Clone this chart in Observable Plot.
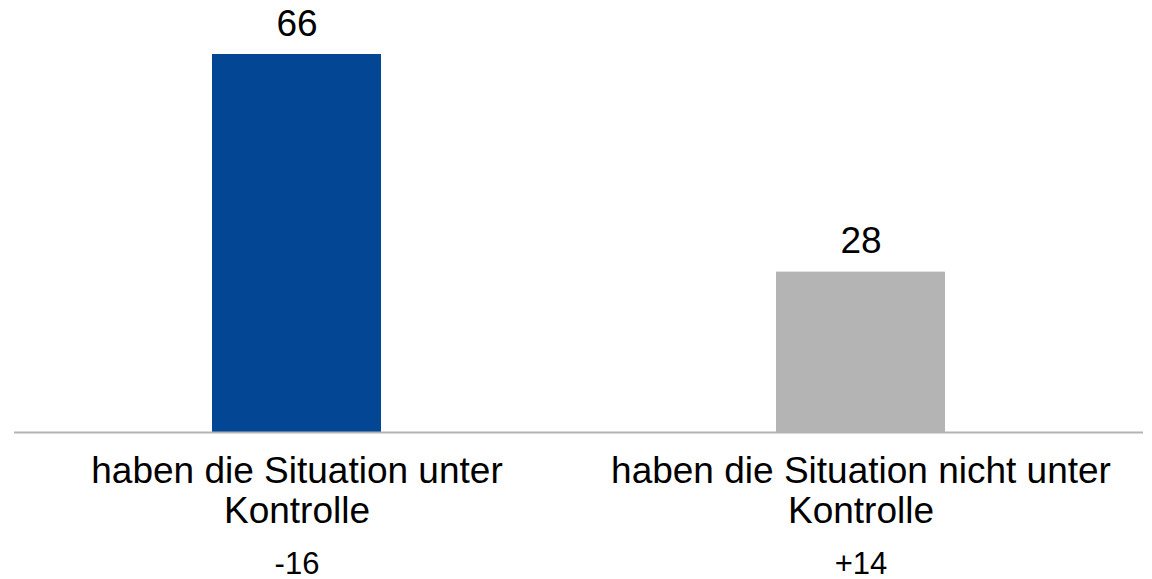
<!DOCTYPE html>
<html>
<head>
<meta charset="utf-8">
<script src="https://cdn.jsdelivr.net/npm/d3@7"></script>
<script src="https://cdn.jsdelivr.net/npm/@observablehq/plot@0.6"></script>
<style>
  html, body { margin: 0; padding: 0; background: #fff; }
  #chart svg { display: block; }
</style>
</head>
<body>
<div id="chart"></div>
<script>
const categories = ["haben die Situation unter\nKontrolle", "haben die Situation nicht unter\nKontrolle"];
const values = [66, 28];
const changes = ["-16", "+14"];
const colors = ["#034694", "#b4b4b4"];

const data = categories.map((c, i) => ({category: c, value: values[i], change: changes[i], color: colors[i]}));

const font = "Liberation Sans, Arial, Helvetica, sans-serif";

const chart = Plot.plot({
  width: 1152,
  height: 579,
  marginTop: 54,
  marginBottom: 147,
  marginLeft: 14,
  marginRight: 9,
  style: {fontFamily: font, background: "#fff"},
  x: {domain: categories, paddingInner: 0.7, paddingOuter: 0.35, axis: null},
  y: {domain: [0, 66], axis: null},
  marks: [
    Plot.barY(data, {x: "category", y: "value", fill: "color"}),
    Plot.ruleY([0], {stroke: "#b4b4b4", strokeWidth: 2}),
    Plot.text(data, {x: "category", y: "value", text: d => String(d.value), lineAnchor: "bottom", dy: -19, fontSize: 37, fill: "#000"}),
    Plot.text(data, {x: "category", y: () => 0, text: "category", lineAnchor: "top", dy: 22, fontSize: 37, lineHeight: 1.08, fill: "#000"}),
    Plot.text(data, {x: "category", y: () => 0, text: "change", lineAnchor: "bottom", dy: 141, fontSize: 31, fill: "#000"})
  ]
});
document.getElementById("chart").appendChild(chart);
</script>
</body>
</html>
